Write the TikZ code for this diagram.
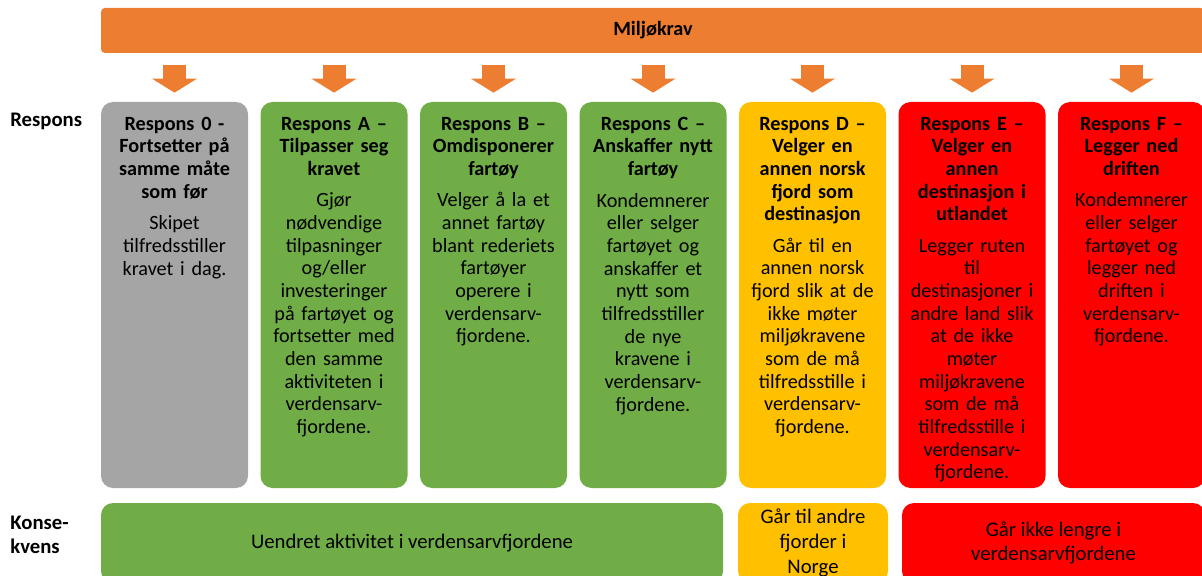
\documentclass[tikz,border=0pt]{standalone}
\usepackage{fontspec}
\setmainfont{Carlito}
\usetikzlibrary{positioning,arrows.meta}
\definecolor{orangeBar}{HTML}{ED7D31}
\definecolor{greyBox}{HTML}{A5A5A5}
\definecolor{greenBox}{HTML}{70AD47}
\definecolor{yellowBox}{HTML}{FFC000}
\definecolor{redBox}{HTML}{FF0000}

\begin{document}
\begin{tikzpicture}[
    font=\fontsize{11.5}{12.9}\selectfont,
    resp/.style={rectangle,rounded corners=0.24cm,minimum width=2.94cm,
                 minimum height=7.72cm,inner sep=0pt},
    rtext/.style={anchor=north,align=center,text width=2.94cm,inner sep=0pt},
    kons/.style={rectangle,rounded corners=0.24cm,minimum height=1.6cm,
                 inner sep=0pt,align=center,font=\fontsize{11.8}{14}\selectfont},
    pil/.style={-{Triangle[width=0.9cm,length=0.28cm,line width=0pt]},
                line width=0.46cm,draw=orangeBar,
                shorten <=0.24cm,shorten >=0.18cm},
    lbl/.style={anchor=west,align=left,inner sep=0pt,
                font=\fontsize{11.8}{13.5}\selectfont\bfseries},
]
\useasboundingbox (0,0) rectangle (24.04,-11.52);

% ---------------------------------------------------------------
%  Miljoekrav bar
% ---------------------------------------------------------------
\node[fill=orangeBar,rounded corners=0.08cm,minimum width=22.08cm,
      minimum height=0.9cm,inner sep=0pt,font=\fontsize{11.5}{12.9}\selectfont\bfseries]
      (bar) at (13.06,-0.61) {Miljøkrav};

% row labels
\node[lbl] (lresp) at (0.2,-2.42) {Respons};
\node[lbl] (lkons) at (0.2,-10.7) {Konse-\\kvens};

% ---------------------------------------------------------------
%  response columns
% ---------------------------------------------------------------
\foreach \n/\c/\x in {b0/greyBox/3.49,bA/greenBox/6.68,bB/greenBox/9.87,
                      bC/greenBox/13.06,bD/yellowBox/16.25,bE/redBox/19.44,
                      bF/redBox/22.63}
   \node[resp,fill=\c] (\n) at (\x,-5.9) {};

\foreach \n in {b0,bA,bB,bC,bD,bE,bF}
   \draw[pil] (bar.south -| \n.north) -- (\n.north);

\node[rtext] (t0) at ([yshift=-0.3cm]b0.north)
  {{\bfseries Respons 0 -\\Fortsetter på\\samme måte\\som før}\\[5pt]
   Skipet\\tilfredsstiller\\kravet i dag.};
\node[rtext] (tA) at ([yshift=-0.3cm]bA.north)
  {{\bfseries Respons A –\\Tilpasser seg\\kravet}\\[5pt]
   Gjør\\nødvendige\\tilpasninger\\og/eller\\investeringer\\på fartøyet og\\
   fortsetter med\\den samme\\aktiviteten i\\verdensarv-\\fjordene.};
\node[rtext] (tB) at ([yshift=-0.3cm]bB.north)
  {{\bfseries Respons B –\\Omdisponerer\\fartøy}\\[5pt]
   Velger å la et\\annet fartøy\\blant rederiets\\fartøyer\\operere i\\
   verdensarv-\\fjordene.};
\node[rtext] (tC) at ([yshift=-0.3cm]bC.north)
  {{\bfseries Respons C –\\Anskaffer nytt\\fartøy}\\[5pt]
   Kondemnerer\\eller selger\\fartøyet og\\anskaffer et\\nytt som\\
   tilfredsstiller\\de nye\\kravene i\\verdensarv-\\fjordene.};
\node[rtext] (tD) at ([yshift=-0.3cm]bD.north)
  {{\bfseries Respons D –\\Velger en\\annen norsk\\fjord som\\destinasjon}\\[5pt]
   Går til en\\annen norsk\\fjord slik at de\\ikke møter\\miljøkravene\\
   som de må\\tilfredsstille i\\verdensarv-\\fjordene.};
\node[rtext] (tE) at ([yshift=-0.3cm]bE.north)
  {{\bfseries Respons E –\\Velger en\\annen\\destinasjon i\\utlandet}\\[5pt]
   Legger ruten\\til\\destinasjoner i\\andre land slik\\at de ikke\\møter\\
   miljøkravene\\som de må\\tilfredsstille i\\verdensarv-\\fjordene.};
\node[rtext] (tF) at ([yshift=-0.3cm]bF.north)
  {{\bfseries Respons F –\\Legger ned\\driften}\\[5pt]
   Kondemnerer\\eller selger\\fartøyet og\\legger ned\\driften i\\
   verdensarv-\\fjordene.};

% ---------------------------------------------------------------
%  consequences
% ---------------------------------------------------------------
\node[kons,fill=greenBox,minimum width=12.44cm] (kgreen) at (8.24,-10.86)
     {Uendret aktivitet i verdensarvfjordene};
\node[kons,fill=yellowBox,minimum width=3.0cm] (kyellow) at (16.26,-10.86)
     {Går til andre\\fjorder i\\Norge};
\node[kons,fill=redBox,minimum width=6.06cm] (kred) at (21.07,-10.86)
     {Går ikke lengre i\\verdensarvfjordene};

\end{tikzpicture}
\end{document}
